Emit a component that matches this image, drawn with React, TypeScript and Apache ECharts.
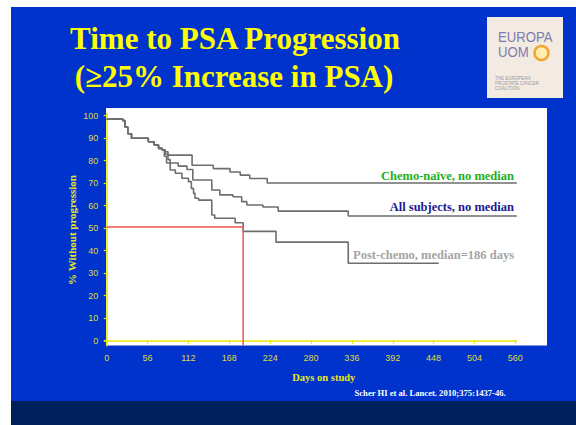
import React, { useEffect, useRef } from 'react';
import * as echarts from 'echarts';

const yTicks = [0, 10, 20, 30, 40, 50, 60, 70, 80, 90, 100];
const xTicks = [0, 56, 112, 168, 224, 280, 336, 392, 448, 504, 560];

const chemoNaiveDays = [0, 22, 25, 29, 34, 57, 65, 71, 76, 80, 84, 117, 146, 169, 183, 196, 220, 562];
const chemoNaivePct = [98.5, 97.8, 95, 92, 90, 88.4, 87, 85.5, 84.8, 84, 82.5, 78, 76.5, 75, 73.6, 72.1, 70.1, 70.1];

const allDays = [0, 22, 25, 29, 34, 57, 65, 71, 76, 80, 84, 87, 98, 110, 118, 144, 155, 173, 185, 192, 214, 235, 331, 562];
const allPct = [98.5, 97.8, 95, 92, 90, 88.4, 87, 85.5, 84.8, 83, 80.5, 79, 77.6, 76.1, 71.4, 67, 64.8, 64, 61.8, 60.3, 59.4, 57.6, 55.4, 55.4];

const postDays = [0, 22, 25, 29, 34, 57, 65, 71, 76, 79, 82, 87, 94, 103, 112, 116, 119, 121, 126, 144, 148, 176, 187, 232, 331, 455];
const postPct = [98.5, 97.8, 95, 92, 90, 88.4, 87, 85.5, 84.8, 82, 79, 75.9, 74.4, 72.2, 70.7, 67.7, 65.5, 63.3, 62.5, 55.9, 54.4, 52.4, 48.6, 43.8, 34.4, 34.4];

const medianDay = 187;
const medianPct = 50.5;

const legendLabels = ['Chemo-naïve, no median', 'All subjects, no median', 'Post-chemo, median=186 days'];

const zip = (a: number[], b: number[]) => a.map((v, i) => [v, b[i]]);

const SERIF = '"Liberation Serif", "Times New Roman", serif';
const SANS = '"Liberation Sans", Arial, sans-serif';

export default function App() {
  const ref = useRef<HTMLDivElement>(null);
  useEffect(() => {
    document.body.style.margin = '0';
    const chart = echarts.init(ref.current!, null, { renderer: 'svg' });
    const yMin = -2.2;
    const kmLine = { color: '#6E6E6E', width: 1.6 };
    chart.setOption({
      animation: false,
      backgroundColor: '#ffffff',
      grid: { left: 104.3, top: 113, width: 412.5, height: 232.65, containLabel: false },
      xAxis: {
        type: 'value',
        min: -3.3,
        max: 562,
        splitLine: { show: false },
        axisLine: { show: true, lineStyle: { color: '#E8E800', width: 1.5 } },
        axisTick: { show: true, length: 3, lineStyle: { color: '#E8E800', width: 1.2 }, customValues: xTicks },
        axisLabel: { color: '#DCDC3A', fontSize: 9, fontFamily: SANS, margin: 8, customValues: xTicks },
      },
      yAxis: {
        type: 'value',
        min: yMin,
        max: 101.2,
        splitLine: { show: false },
        axisLine: { show: true, lineStyle: { color: '#E8E800', width: 1.5 } },
        axisTick: { show: true, length: 3, lineStyle: { color: '#E8E800', width: 1.2 }, customValues: yTicks },
        axisLabel: { color: '#DCDC3A', fontSize: 9, fontFamily: SANS, margin: 6, customValues: yTicks },
      },
      series: [
        {
          type: 'line', step: 'end', showSymbol: false, symbol: 'none',
          data: zip(chemoNaiveDays, chemoNaivePct), lineStyle: kmLine, z: 3,
        },
        {
          type: 'line', step: 'end', showSymbol: false, symbol: 'none',
          data: zip(allDays, allPct), lineStyle: kmLine, z: 3,
        },
        {
          type: 'line', step: 'end', showSymbol: false, symbol: 'none',
          data: zip(postDays, postPct), lineStyle: kmLine, z: 3,
        },
        {
          type: 'line', showSymbol: false, symbol: 'none',
          data: [[0, medianPct], [medianDay, medianPct], [medianDay, yMin]],
          lineStyle: { color: '#F25555', width: 1.5 }, z: 4,
        },
      ],
      graphic: [
        { type: 'rect', z: -1, shape: { x: 11, y: 7, width: 565, height: 394 }, style: { fill: '#0033CC' } },
        { type: 'rect', z: -1, shape: { x: 11, y: 401, width: 565, height: 24 }, style: { fill: '#00205C' } },
        { type: 'rect', z: -1, shape: { x: 106, y: 108, width: 441, height: 237.5 }, style: { fill: '#ffffff' } },
        // logo
        { type: 'rect', z: 1, shape: { x: 487, y: 17, width: 76, height: 81 }, style: { fill: '#F3EAE2' } },
        { type: 'text', z: 2, x: 498, y: 36.5, scaleX: 0.86, style: { text: 'EUROPA', fill: '#7C7CB0', fontSize: 15.3, fontFamily: SANS, verticalAlign: 'middle', align: 'left' } },
        { type: 'text', z: 2, x: 498, y: 51.5, scaleX: 0.86, style: { text: 'UOM', fill: '#7C7CB0', fontSize: 15.3, fontFamily: SANS, verticalAlign: 'middle', align: 'left' } },
        { type: 'circle', z: 2, shape: { cx: 541.5, cy: 53, r: 7 }, style: { fill: '#FFEFB0', stroke: '#F5A532', lineWidth: 2.5 } },
        { type: 'text', z: 2, x: 495, y: 78, style: { text: 'THE EUROPEAN', fill: '#9A9A9A', fontSize: 4.5, fontFamily: SANS, verticalAlign: 'middle' } },
        { type: 'text', z: 2, x: 495, y: 83, style: { text: 'PROSTATE CANCER', fill: '#9A9A9A', fontSize: 4.5, fontFamily: SANS, verticalAlign: 'middle' } },
        { type: 'text', z: 2, x: 495, y: 88, style: { text: 'COALITION', fill: '#9A9A9A', fontSize: 4.5, fontFamily: SANS, verticalAlign: 'middle' } },
        // title
        { type: 'text', z: 10, x: 235, y: 38.5, style: { text: 'Time to PSA Progression', fill: '#FFFF00', fontSize: 31, fontWeight: 'bold', fontFamily: SERIF, align: 'center', verticalAlign: 'middle' } },
        { type: 'text', z: 10, x: 234, y: 76.5, style: { text: '(≥25% Increase in PSA)', fill: '#FFFF00', fontSize: 31, fontWeight: 'bold', fontFamily: SERIF, align: 'center', verticalAlign: 'middle' } },
        // in-plot labels
        { type: 'text', z: 10, x: 514, y: 175.8, style: { text: legendLabels[0], fill: '#1DAF1D', fontSize: 12.5, fontWeight: 'bold', fontFamily: SERIF, align: 'right', verticalAlign: 'middle' } },
        { type: 'text', z: 10, x: 514, y: 206.5, style: { text: legendLabels[1], fill: '#1A1A90', fontSize: 12.5, fontWeight: 'bold', fontFamily: SERIF, align: 'right', verticalAlign: 'middle' } },
        { type: 'text', z: 10, x: 514, y: 255.1, style: { text: legendLabels[2], fill: '#A4A4A4', fontSize: 12.5, fontWeight: 'bold', fontFamily: SERIF, align: 'right', verticalAlign: 'middle' } },
        // axis titles
        { type: 'text', z: 10, x: 323.8, y: 377.3, style: { text: 'Days on study', fill: '#E8E820', fontSize: 10.5, fontWeight: 'bold', fontFamily: SERIF, align: 'center', verticalAlign: 'middle' } },
        { type: 'text', z: 10, x: 72, y: 230, rotation: Math.PI / 2, style: { text: '% Without progression', fill: '#E8E820', fontSize: 11, fontWeight: 'bold', fontFamily: SERIF, align: 'center', verticalAlign: 'middle' } },
        // citation
        { type: 'text', z: 10, x: 505.7, y: 392.7, style: { text: 'Scher HI et al. Lancet. 2010;375:1437-46.', fill: '#FFFFFF', fontSize: 8.6, fontWeight: 'bold', fontFamily: SERIF, align: 'right', verticalAlign: 'middle' } },
      ],
    });
    return () => chart.dispose();
  }, []);
  return <div ref={ref} style={{ width: 576, height: 425 }} />;
}
